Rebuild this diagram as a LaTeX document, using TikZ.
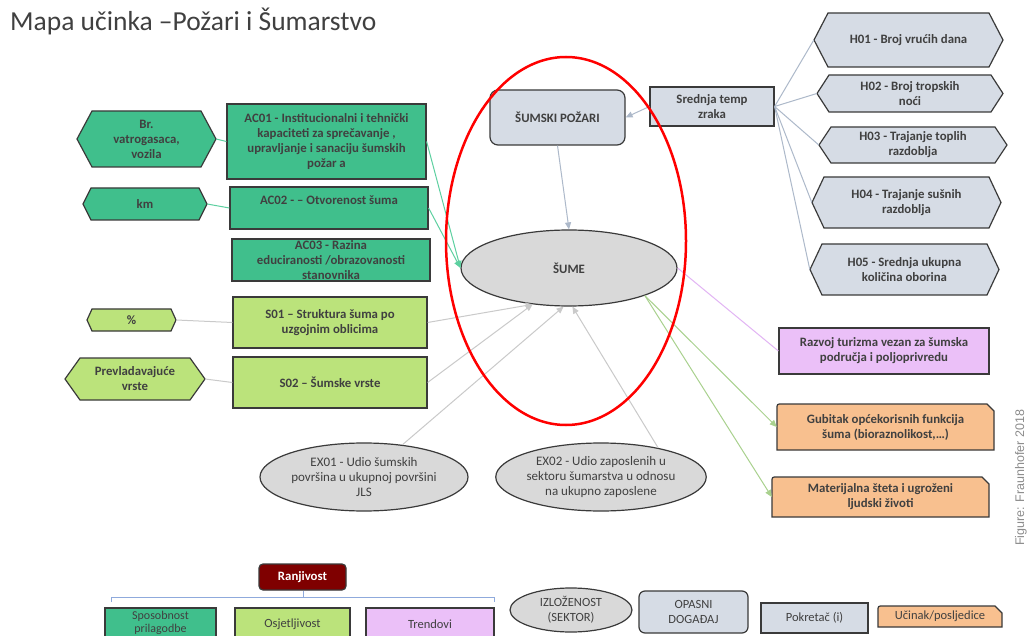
\documentclass[tikz,border=0pt]{standalone}
\usepackage{fontspec}
\setmainfont{Carlito}
\newfontfamily\figfont{Liberation Sans}
\usetikzlibrary{arrows.meta,shapes.geometric}
\definecolor{dkg}{HTML}{40BF8C}
\definecolor{dkgline}{HTML}{5DD0A0}
\definecolor{ltg}{HTML}{BBE37B}
\definecolor{ltgline}{HTML}{A9D18E}
\definecolor{bg}{HTML}{D6DCE5}
\definecolor{bgline}{HTML}{ADB9CA}
\definecolor{gr}{HTML}{D9D9D9}
\definecolor{grline}{HTML}{CACACA}
\definecolor{pk}{HTML}{EBC0F8}
\definecolor{pkline}{HTML}{E2B4F4}
\definecolor{org}{HTML}{F8C08F}
\definecolor{dred}{HTML}{7F0000}
\definecolor{txt}{HTML}{404040}
\definecolor{bord}{HTML}{3A3A3A}
\definecolor{brk}{HTML}{8FAADC}
\tikzset{
  bfont/.style={font=\bfseries\fontsize{12.8}{15}\selectfont},
  rfont/.style={font=\fontsize{13}{15}\selectfont},
  lfont/.style={font=\fontsize{12.5}{15}\selectfont},
  box/.style={draw=bord, line width=1.2pt, inner sep=1pt, align=center, text=txt, bfont},
  plain/.style={inner sep=0pt, align=center, text=txt, bfont},
  hexline/.style={draw=bord, line width=1.2pt},
  conn/.style={line width=1pt},
  arr/.style={-{Triangle[length=7pt,width=6pt]}},
}
\newcommand\mybox[7][]{%
  \pgfmathsetmacro\bxC{(#3+#5)/2}%
  \pgfmathsetmacro\byC{(#4+#6)/2}%
  \pgfmathsetmacro\bW{#5-#3}%
  \pgfmathsetmacro\bH{#6-#4}%
  \node[box, minimum width=\bW pt, minimum height=\bH pt, #1] (#2) at (\bxC,\byC) {#7};%
}
\newcommand\myhex[8]{%
  \pgfmathsetmacro\hyM{(#3+#5)/2}%
  \pgfmathsetmacro\hxC{(#2+#4)/2}%
  \pgfmathsetmacro\hW{#4-#2}%
  \pgfmathsetmacro\hH{#5-#3}%
  \filldraw[hexline, fill=#7] (#2,\hyM) -- (#2+#6,#3) -- (#4-#6,#3) -- (#4,\hyM) -- (#4-#6,#5) -- (#2+#6,#5) -- cycle;%
  \node[plain, minimum width=\hW pt, minimum height=\hH pt] (#1) at (\hxC,\hyM) {#8};%
}
\newcommand\mysnip[7][]{%
  \pgfmathsetmacro\sxC{(#3+#5)/2}%
  \pgfmathsetmacro\syC{(#4+#6)/2}%
  \pgfmathsetmacro\sW{#5-#3}%
  \pgfmathsetmacro\sH{#6-#4}%
  \filldraw[hexline, fill=org] (#3,#6) -- (#3,#4+5) .. controls (#3,#4) .. (#3+5,#4) -- (#5-7,#4) -- (#5,#4+7) -- (#5,#6) -- cycle;%
  \node[plain, minimum width=\sW pt, minimum height=\sH pt, #1] (#2) at (\sxC,\syC) {#7};%
}
\begin{document}
\begin{tikzpicture}[x=1pt,y=-1pt]
\useasboundingbox (0,0) rectangle (1028,636);
\clip (0,0) rectangle (1028,636);
\fill[white] (0,0) rectangle (1028,636);

% title
\node[anchor=base west, inner sep=0pt, text=txt, font=\fontsize{27.5}{31}\selectfont] (title) at (10,31) {Mapa učinka –Požari i Šumarstvo};

% left side: adaptive capacity
\myhex{br}{77}{111}{216}{167}{15}{dkg}{Br.\\vatrogasaca,\\vozila}
\mybox[fill=dkg]{ac01}{227}{104}{426}{179}{AC01 - Institucionalni i tehnički\\kapaciteti za sprečavanje ,\\upravljanje i sanaciju šumskih\\požar a}
\myhex{km}{83}{188}{207}{220}{8}{dkg}{km}
\mybox[fill=dkg]{ac02}{230}{187}{428}{229}{AC02 - -- Otvorenost šuma\\[0pt]\mbox{}}
\mybox[fill=dkg]{ac03}{232}{239}{430}{281}{AC03 - Razina\\educiranosti /obrazovanosti\\stanovnika}

% sensitivity
\myhex{pct}{87}{309}{176}{331}{5}{ltg}{\%}
\mybox[fill=ltg]{s01}{233}{297}{427}{348}{S01 -- Struktura šuma po\\uzgojnim oblicima}
\myhex{prev}{65}{358}{205}{400}{15}{ltg}{Prevladavajuće\\vrste}
\mybox[fill=ltg]{s02}{233}{357}{427}{408}{S02 -- Šumske vrste}

% exposure
\node[ellipse, draw=bord, line width=1.2pt, fill=gr, minimum width=208pt, minimum height=68pt, inner sep=0pt, align=center, text=txt, rfont] (ex01) at (364,477) {EX01 - Udio šumskih\\površina u ukupnoj površini\\JLS};
\node[ellipse, draw=bord, line width=1.2pt, fill=gr, minimum width=196pt, minimum height=68pt, inner sep=0pt, align=center, text=txt, rfont] (ex02) at (601,477) {EX02 - Udio zaposlenih u\\sektoru šumarstva u odnosu\\na ukupno zaposlene};

% centre
\node[ellipse, draw=bord, line width=1.2pt, fill=gr, minimum width=216pt, minimum height=76pt, inner sep=0pt, text=txt, bfont] (sume) at (569,268) {ŠUME};
\mybox[fill=bg, rounded corners=8pt]{pozari}{490}{90}{625}{145}{ŠUMSKI POŽARI}
\mybox[fill=bg]{srednja}{650}{87}{774}{126}{Srednja temp\\zraka}

% hazards
\myhex{h01}{814}{13}{1003}{67}{14}{bg}{H01 - Broj vrućih dana}
\myhex{h02}{817}{75}{1003}{112}{12}{bg}{H02 - Broj tropskih\\noći}
\myhex{h03}{819}{127}{1007}{163}{12}{bg}{H03 - Trajanje toplih\\razdoblja}
\myhex{h04}{812}{177}{1001}{228}{12}{bg}{H04 - Trajanje sušnih\\razdoblja}
\myhex{h05}{810}{244}{999}{295}{12}{bg}{H05 - Srednja ukupna\\količina oborina}

% impacts
\mybox[fill=pk]{razvoj}{779}{328}{989}{374}{Razvoj turizma vezan za šumska\\područja i poljoprivredu}
\mysnip{gubitak}{777}{404}{994}{450}{Gubitak općekorisnih funkcija\\šuma (bioraznolikost,…)}
\mysnip{mater}{772}{477}{989}{517}{Materijalna šteta i ugroženi\\ljudski životi}

% connectors
\draw[conn, dkgline] (br.east) -- (ac01.west);
\draw[conn, dkgline] (km.east) -- (ac02.west);
\draw[conn, dkgline, arr] (ac01.east) -- (sume.west);
\draw[conn, dkgline, arr] (ac02.east) -- (sume.west);
\draw[conn, grline] (pct.east) -- (s01.west);
\draw[conn, grline] (prev.east) -- (s02.west);
\draw[conn, grline, arr] (s01.east) -- (sume.225);
\draw[conn, grline, arr] (s02.east) -- (sume.225);
\draw[conn, grline, arr] (ex01.40) -- (sume.262);
\draw[conn, grline, arr] (ex02.27) -- (sume.275);
\draw[conn, bgline, arr] (pozari.south) -- (sume.north);
\draw[conn, bgline, arr] (srednja.west) -- (pozari.east);
\foreach \h in {h01,h02,h03,h04,h05}
  \draw[conn, bgline] (srednja.east) -- (\h.west);
\draw[conn, pkline] (sume.east) -- (razvoj.west);
\draw[conn, ltgline, arr] (sume.340) -- (gubitak.west);
\draw[conn, ltgline, arr] (sume.340) -- (mater.west);

% focus ring
\node[ellipse, draw=red, line width=2.5pt, minimum width=240pt, minimum height=368pt, inner sep=0pt] (ring) at (566,241) {};

% credit
\node[rotate=90, inner sep=0pt, text=black!45, font=\figfont\fontsize{12.5}{14}\selectfont] (credit) at (1021,478) {Figure: Fraunhofer 2018};

% legend
\mybox[fill=dred, rounded corners=4pt, text=white]{ranj}{259}{564}{346}{590}{Ranjivost}
\draw[brk, line width=1pt] (111,602) -- (111,597) -- (494,597) -- (494,602);
\draw[brk, line width=1pt] (303,597) -- (303,591);
\mybox[fill=dkg, font=\fontsize{12}{13}\selectfont]{lsp}{105}{608}{216}{637}{Sposobnost\\prilagodbe}
\mybox[fill=ltg, lfont]{los}{235}{608}{350}{640}{Osjetljivost}
\mybox[fill=pk, lfont]{ltr}{366}{608}{494}{640}{Trendovi}
\node[ellipse, draw=bord, line width=1.2pt, fill=gr, minimum width=122pt, minimum height=44pt, inner sep=0pt, align=center, text=txt, lfont] (lizl) at (571,610) {IZLOŽENOST\\(SEKTOR)};
\mybox[fill=bg, rounded corners=6pt, lfont]{lop}{639}{591}{748}{633}{OPASNI\\DOGAĐAJ}
\mybox[fill=bg, lfont]{lpo}{761}{603}{868}{633}{Pokretač (i)}
\mysnip[lfont]{luc}{878}{606}{1002}{627}{Učinak/posljedice}
\end{tikzpicture}
\end{document}
